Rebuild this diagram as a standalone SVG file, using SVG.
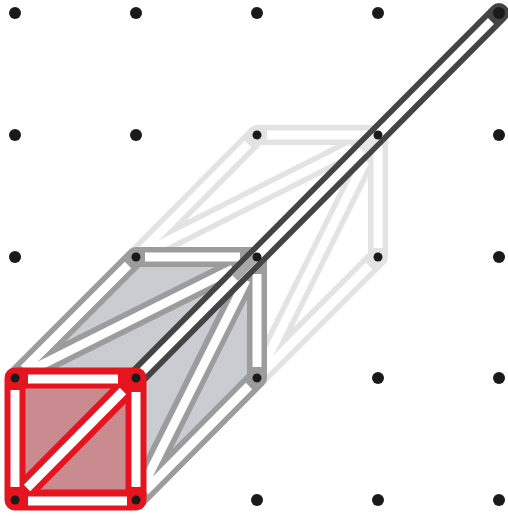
<svg xmlns="http://www.w3.org/2000/svg" width="508" height="516" viewBox="0 0 508 516">
<style>
.b{fill:none;stroke-linecap:round;stroke-linejoin:round}
.l{stroke:#e3e3e3;stroke-width:20}
.g{stroke:#9c9c9c;stroke-width:20}
.d{stroke:#444;stroke-width:20}
.r{stroke:#e5141f;stroke-width:21}
.w{fill:none;stroke:#fff;stroke-width:9}
.c{stroke-width:8.500}
.n{fill:#1a1a1a}
</style>
<rect width="508" height="516" fill="#fff"/>
<g id="connectors">
<path class="b l" d="M136 257L257 135M136 257L378 135M257 378L378 135M257 378L378 257M257 135H378M378 135V257"/>
<path class="w" d="M136 257L248 144M136 257L352 148M257 378L365 161M257 378L369 266M267 135H368M378 146V248"/>
<path d="M15 378L136 257H257V378L136 500Z" fill="#c9ccd0"/>
<path class="b g" d="M15 378L136 257M15 378L257 257M136 500L257 257M136 500L257 378M136 257H257M257 257V378"/>
<path class="w" d="M24 369L128 265M26 372.500L233 269M143 486L246 280M145 491L249 386M145 257H240M257 274V367"/>
<path class="b d" d="M136 378L499 13"/>
<path class="w c" d="M136 378L491 21"/>
<path d="M235 278L258 255" fill="none" stroke="#a8a8a8" stroke-width="8.500"/>
<path d="M362 151L380 133" fill="none" stroke="#e6e6e6" stroke-width="8.500"/>
<path d="M15 378H136V500H15Z" fill="#c98a90"/>
<path class="b r" d="M15 378H136V500H15ZM15 500L136 378"/>
<path class="w" d="M28 379H118M15 390V487M136 392V487M28 501H127M27 488L123 391"/>
</g>
<g id="n00"><circle class="n" cx="15" cy="13" r="6"/></g>
<g id="n10"><circle class="n" cx="136" cy="13" r="6"/></g>
<g id="n20"><circle class="n" cx="257" cy="13" r="6"/></g>
<g id="n30"><circle class="n" cx="378" cy="13" r="6"/></g>
<g id="n40"><circle class="n" cx="499" cy="13" r="6"/></g>
<g id="n01"><circle class="n" cx="15" cy="135" r="6"/></g>
<g id="n11"><circle class="n" cx="136" cy="135" r="6"/></g>
<g id="n21"><circle class="n" cx="257" cy="135" r="4.500"/></g>
<g id="n31"><circle class="n" cx="378" cy="135" r="4.500"/></g>
<g id="n41"><circle class="n" cx="499" cy="135" r="6"/></g>
<g id="n02"><circle class="n" cx="15" cy="257" r="6"/></g>
<g id="n12"><circle class="n" cx="136" cy="257" r="4.500"/></g>
<g id="n22"><circle class="n" cx="257" cy="257" r="4.500"/></g>
<g id="n32"><circle class="n" cx="378" cy="257" r="4.500"/></g>
<g id="n42"><circle class="n" cx="499" cy="257" r="6"/></g>
<g id="n03"><circle class="n" cx="15" cy="378" r="4.500"/></g>
<g id="n13"><circle class="n" cx="136" cy="378" r="4.500"/></g>
<g id="n23"><circle class="n" cx="257" cy="378" r="4.500"/></g>
<g id="n33"><circle class="n" cx="378" cy="378" r="6"/></g>
<g id="n43"><circle class="n" cx="499" cy="378" r="6"/></g>
<g id="n04"><circle class="n" cx="15" cy="500" r="4.500"/></g>
<g id="n14"><circle class="n" cx="136" cy="500" r="4.500"/></g>
<g id="n24"><circle class="n" cx="257" cy="500" r="6"/></g>
<g id="n34"><circle class="n" cx="378" cy="500" r="6"/></g>
<g id="n44"><circle class="n" cx="499" cy="500" r="6"/></g>
</svg>
